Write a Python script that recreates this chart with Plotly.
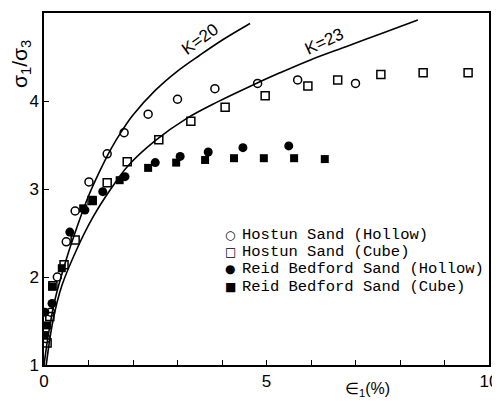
import plotly.graph_objects as go

# Curves
k20_x = [0.0, 0.1, 0.25, 0.5, 0.75, 1.0, 1.25, 1.5, 1.75, 2.0, 2.5, 3.0, 3.5, 4.0, 4.63]
k20_y = [1.0, 1.35, 1.75, 2.2, 2.58, 2.92, 3.2, 3.45, 3.66, 3.84, 4.12, 4.34, 4.52, 4.69, 4.88]
k23_x = [0.05, 0.2, 0.4, 0.75, 1.1, 1.5, 1.9, 2.5, 3.2, 3.9, 4.6, 5.3, 6.0, 6.8, 7.6, 8.4]
k23_y = [1.0, 1.5, 1.9, 2.33, 2.68, 3.0, 3.27, 3.55, 3.8, 3.99, 4.16, 4.32, 4.47, 4.62, 4.77, 4.92]

# Data series
hostun_hollow_x = [0.05, 0.15, 0.3, 0.5, 0.7, 1.01, 1.42, 1.8, 2.34, 3.0, 3.84, 4.8, 5.7, 7.0]
hostun_hollow_y = [1.3, 1.6, 2.0, 2.4, 2.75, 3.08, 3.4, 3.64, 3.85, 4.02, 4.14, 4.2, 4.24, 4.2]
hostun_cube_x = [0.07, 0.13, 0.2, 0.45, 0.7, 1.08, 1.42, 1.87, 2.58, 3.3, 4.07, 4.97, 5.93, 6.6, 7.57, 8.52, 9.53]
hostun_cube_y = [1.25, 1.55, 1.9, 2.14, 2.42, 2.87, 3.07, 3.31, 3.56, 3.77, 3.93, 4.06, 4.17, 4.24, 4.3, 4.32, 4.32]
reid_hollow_x = [0.02, 0.18, 0.58, 0.92, 1.32, 1.82, 2.5, 3.06, 3.69, 4.47, 5.5]
reid_hollow_y = [1.6, 1.7, 2.51, 2.76, 2.97, 3.14, 3.3, 3.37, 3.42, 3.47, 3.49]
reid_cube_x = [0.0, 0.07, 0.18, 0.4, 0.88, 1.1, 1.7, 2.34, 2.97, 3.62, 4.27, 4.94, 5.62, 6.31]
reid_cube_y = [1.34, 1.45, 1.89, 2.1, 2.78, 2.87, 3.1, 3.24, 3.3, 3.33, 3.35, 3.35, 3.35, 3.34]

legend_symbols = ["○", "□", "●", "■"]
legend_labels = ["Hostun Sand (Hollow)", "Hostun Sand (Cube)",
                 "Reid Bedford Sand (Hollow)", "Reid Bedford Sand (Cube)"]

x_tickvals = [0, 5, 10]
x_minor_tickvals = [1, 2, 3, 4, 6, 7, 8, 9]
y_tickvals = [1, 2, 3, 4, 5]

fig = go.Figure()
fig.add_trace(go.Scatter(x=k20_x, y=k20_y, mode="lines", line=dict(color="black", width=1.6, shape="spline"), showlegend=False))
fig.add_trace(go.Scatter(x=k23_x, y=k23_y, mode="lines", line=dict(color="black", width=1.6, shape="spline"), showlegend=False))

fig.add_trace(go.Scatter(x=hostun_hollow_x, y=hostun_hollow_y, mode="markers", name=legend_labels[0], showlegend=False,
                         marker=dict(symbol="circle-open", size=8, color="black", line=dict(width=1.5))))
fig.add_trace(go.Scatter(x=hostun_cube_x, y=hostun_cube_y, mode="markers", name=legend_labels[1], showlegend=False,
                         marker=dict(symbol="square-open", size=8, color="black", line=dict(width=1.5))))
fig.add_trace(go.Scatter(x=reid_hollow_x, y=reid_hollow_y, mode="markers", name=legend_labels[2], showlegend=False,
                         marker=dict(symbol="circle", size=9, color="black")))
fig.add_trace(go.Scatter(x=reid_cube_x, y=reid_cube_y, mode="markers", name=legend_labels[3], showlegend=False,
                         marker=dict(symbol="square", size=8, color="black")))

fig.add_annotation(x=3.5, y=4.7, text="K=20", showarrow=False, textangle=-36,
                   font=dict(family="Liberation Sans", size=17, color="black"))
fig.add_annotation(x=6.3, y=4.68, text="K=23", showarrow=False, textangle=-25,
                   font=dict(family="Liberation Sans", size=17, color="black"))

# legend as text rows
row_y = [0.369, 0.321, 0.273, 0.222]
for sym, lab, yy in zip(legend_symbols, legend_labels, row_y):
    fig.add_annotation(xref="paper", yref="paper", x=0.418, y=yy, xanchor="center", yanchor="middle",
                       text=sym, showarrow=False, font=dict(family="DejaVu Sans", size=12, color="black"))
    fig.add_annotation(xref="paper", yref="paper", x=0.44, y=yy, xanchor="left", yanchor="middle",
                       text=lab, showarrow=False, font=dict(family="Liberation Mono", size=15.5, color="black"))

fig.add_annotation(xref="paper", yref="paper", x=0.726, y=-0.071, xanchor="center", yanchor="middle",
                   text="∈<sub>1</sub>(%)", showarrow=False,
                   font=dict(family="Liberation Sans", size=16, color="black"))
fig.add_annotation(xref="paper", yref="paper", x=-0.052, y=0.855, xanchor="center", yanchor="middle",
                   text="σ<sub>1</sub>/σ<sub>3</sub>", showarrow=False, textangle=-90,
                   font=dict(family="Liberation Sans", size=21, color="black"))

# page body has an 8px margin, so the margins are shifted to place the plot area like the reference
fig.update_layout(
    width=500, height=405,
    margin=dict(l=36, r=19, t=5, b=48),
    paper_bgcolor="white", plot_bgcolor="white",
    font=dict(family="Liberation Sans", color="black"),
    showlegend=False,
)
fig.update_xaxes(range=[0, 10], tickvals=x_tickvals, ticks="inside", ticklen=5,
                 minor=dict(tickvals=x_minor_tickvals, ticks="inside", ticklen=5, tickcolor="black", showgrid=False),
                 tickcolor="black", showline=True, linecolor="black", linewidth=1.5, mirror=True,
                 showgrid=False, zeroline=False, automargin=False,
                 tickfont=dict(size=17, family="Liberation Sans"))
fig.update_yaxes(range=[1, 5], tickvals=y_tickvals, ticks="inside", ticklen=5,
                 tickcolor="black", showline=True, linecolor="black", linewidth=1.5, mirror=True,
                 showgrid=False, zeroline=False, automargin=False,
                 tickfont=dict(size=17, family="Liberation Sans"))

fig.write_html("out.html")
